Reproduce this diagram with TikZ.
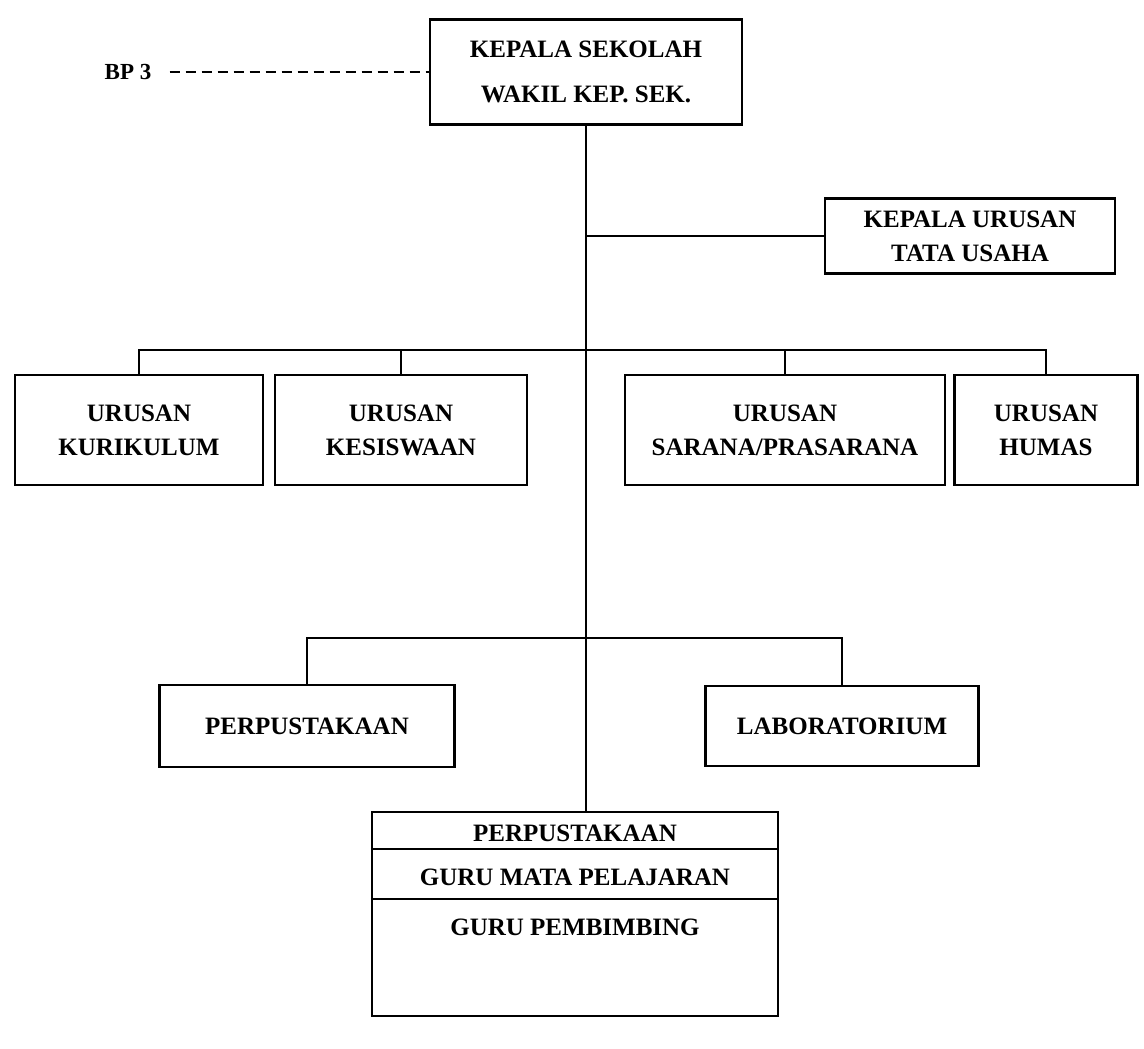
\documentclass[tikz,border=0pt]{standalone}
\usepackage{fontspec}
\setmainfont{Liberation Serif}

\begin{document}
\begin{tikzpicture}[x=1pt, y=-1pt,
  orgbox/.style={draw, line width=2.4pt, align=center, inner sep=0pt,
    font=\bfseries\fontsize{25}{34}\selectfont},
  orgtext/.style={inner sep=0pt, font=\bfseries\fontsize{25}{30}\selectfont},
  link/.style={line width=1.8pt}]
  \useasboundingbox (0,0) rectangle (1144,1049);

  % Pimpinan
  \node[orgbox, minimum width=312pt, minimum height=105pt,
    font=\bfseries\fontsize{25}{45}\selectfont] (kepsek) at (586,72)
    {KEPALA SEKOLAH\\WAKIL KEP. SEK.};
  \node[orgtext, font=\bfseries\fontsize{23}{28}\selectfont] (bp) at (128,72) {BP 3};
  \draw[link, dash pattern=on 10pt off 6pt, shorten <=18pt] (bp.east) -- (kepsek.west);

  % Tata usaha
  \node[orgbox, minimum width=290pt, minimum height=75pt] (tu) at (970,236)
    {KEPALA URUSAN\\TATA USAHA};

  % Urusan
  \coordinate (bus) at (0,350);
  \node[orgbox, minimum width=248pt, minimum height=110pt] (kurikulum) at (139,430)
    {URUSAN\\KURIKULUM};
  \node[orgbox, minimum width=252pt, minimum height=110pt] (kesiswaan) at (401,430)
    {URUSAN\\KESISWAAN};
  \node[orgbox, minimum width=320pt, minimum height=110pt] (sarana) at (785,430)
    {URUSAN\\SARANA/PRASARANA};
  \node[orgbox, minimum width=183pt, minimum height=110pt] (humas) at (1046,430)
    {URUSAN\\HUMAS};

  % Perpustakaan dan laboratorium
  \coordinate (bus2) at (0,638);
  \node[orgbox, minimum width=295pt, minimum height=82pt] (perpus) at (307,726)
    {PERPUSTAKAAN};
  \node[orgbox, minimum width=273pt, minimum height=80pt] (lab) at (842,726)
    {LABORATORIUM};

  % Guru
  \node[orgbox, minimum width=406pt, minimum height=204pt] (guru) at (575,914) {};
  \draw[line width=2pt] ([yshift=-38pt]guru.north west) -- ([yshift=-38pt]guru.north east);
  \draw[line width=2pt] ([yshift=-88pt]guru.north west) -- ([yshift=-88pt]guru.north east);
  \node[orgtext] (gperpus) at (575,833) {PERPUSTAKAAN};
  \node[orgtext] (gmapel) at (575,877) {GURU MATA PELAJARAN};
  \node[orgtext] (gbk) at (575,927) {GURU PEMBIMBING};

  % Garis
  \draw[link] (kepsek.south) -- (kepsek.south |- guru.north);
  \draw[link] (kepsek.south |- tu.west) -- (tu.west);
  \draw[link] (kurikulum.north) |- (humas.north |- bus) -- (humas.north);
  \foreach \n in {kesiswaan, sarana}
    \draw[link] (\n.north) -- (\n.north |- bus);
  \draw[link] (perpus.north) |- (lab.north |- bus2) -- (lab.north);

\end{tikzpicture}
\end{document}
